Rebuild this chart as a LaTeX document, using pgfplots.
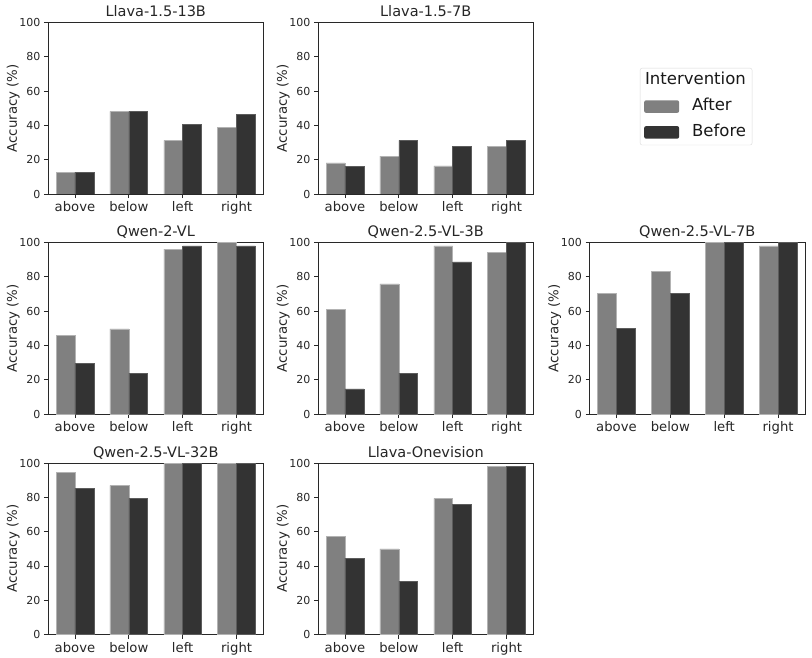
\documentclass[border=0pt]{standalone}
\usepackage{fontspec}
\setmainfont{DejaVu Sans}
\usepackage{pgfplots}
\pgfplotsset{compat=1.18}
\definecolor{afterc}{RGB}{128,128,128}
\definecolor{beforec}{RGB}{51,51,51}
\definecolor{axc}{RGB}{40,40,40}
\pgfplotsset{
  panel/.style={
    scale only axis, width=215.5pt, height=171.5pt,
    anchor=north west,
    ymin=0, ymax=100, xmin=-0.5, xmax=3.5,
    ytick={0,20,40,60,80,100},
    xtick={0,1,2,3}, xticklabels={above,below,left,right},
    ylabel={Accuracy (\%)},
    ybar, bar width=0.35,
    axis line style={axc, line width=0.8pt},
    tick style={axc, line width=0.8pt},
    tick align=outside, major tick length=4pt,
    xtick pos=bottom, ytick pos=left,
    /pgf/number format/assume math mode=true,
    yticklabel style={font=\fontsize{11}{13}\selectfont, text=black!85},
    xticklabel style={font=\fontsize{13.2}{15}\selectfont, text=black!85},
    every axis y label/.style={at={(axis description cs:-0.162,0.5)}, rotate=90, anchor=center, font=\fontsize{13.3}{15}\selectfont, text=black!85},
    title style={at={(axis description cs:0.5,1)}, anchor=base, yshift=0pt, font=\fontsize{14.5}{17}\selectfont, text=black!85},
  },
  aft/.style={fill=afterc, draw=white!40!afterc, line width=0.5pt, bar shift=-0.175},
  bef/.style={fill=beforec, draw=white!20!beforec, line width=0.5pt, bar shift=0.175},
}
\begin{document}
\begin{tikzpicture}
\path[use as bounding box] (0,0) rectangle (812pt,-658pt);
% Row 1
\begin{axis}[panel, at={(48pt,-22.5pt)}, title={Llava-1.5-13B}]
\addplot[aft] coordinates {(0,12.7) (1,48.2) (2,31.3) (3,38.7)};
\addplot[bef] coordinates {(0,12.7) (1,48.2) (2,40.6) (3,46.5)};
\end{axis}
\begin{axis}[panel, at={(318pt,-22.5pt)}, title={Llava-1.5-7B}]
\addplot[aft] coordinates {(0,18.2) (1,22.1) (2,16.4) (3,27.7)};
\addplot[bef] coordinates {(0,16.2) (1,31.3) (2,27.7) (3,31.3)};
\end{axis}
% legend holder
\begin{axis}[scale only axis, width=215.5pt, height=171.5pt, anchor=north west,
  at={(589.5pt,-22.5pt)}, hide axis, xmin=0, xmax=1, ymin=0, ymax=1,
  legend style={at={(0.234,0.735)}, anchor=north west,
    font=\fontsize{16.5}{19}\selectfont, text=black!90,
    draw=black!15, rounded corners=2pt, fill=white,
    inner xsep=4pt, inner ysep=3pt, row sep=6.5pt,
    nodes={inner sep=2pt, text height=11.8pt, text depth=3.5pt},
    /tikz/every odd column/.append style={column sep=11pt}},
  legend cell align=left,
  legend image code/.code={\fill[#1] (0pt,-6.3pt) rectangle (35pt,6.3pt);}]
\addlegendimage{empty legend}
\addlegendentry{\hspace*{-47pt}Intervention}
\addlegendimage{fill=afterc, draw=none}
\addlegendentry{After}
\addlegendimage{fill=beforec, draw=none}
\addlegendentry{Before}
\end{axis}
% Row 2
\begin{axis}[panel, at={(48pt,-242.5pt)}, title={Qwen-2-VL}]
\addplot[aft] coordinates {(0,46.0) (1,49.7) (2,96.1) (3,100)};
\addplot[bef] coordinates {(0,29.5) (1,23.9) (2,98.1) (3,98.1)};
\end{axis}
\begin{axis}[panel, at={(318pt,-242.5pt)}, title={Qwen-2.5-VL-3B}]
\addplot[aft] coordinates {(0,61.0) (1,75.9) (2,98.1) (3,94.2)};
\addplot[bef] coordinates {(0,14.6) (1,23.9) (2,88.7) (3,100)};
\end{axis}
\begin{axis}[panel, at={(589.5pt,-242.5pt)}, title={Qwen-2.5-VL-7B}]
\addplot[aft] coordinates {(0,70.5) (1,83.1) (2,100) (3,98.1)};
\addplot[bef] coordinates {(0,49.9) (1,70.5) (2,100) (3,100)};
\end{axis}
% Row 3
\begin{axis}[panel, at={(48pt,-463pt)}, title={Qwen-2.5-VL-32B}]
\addplot[aft] coordinates {(0,94.6) (1,87.0) (2,100) (3,100)};
\addplot[bef] coordinates {(0,85.2) (1,79.4) (2,100) (3,100)};
\end{axis}
\begin{axis}[panel, at={(318pt,-463pt)}, title={Llava-Onevision}]
\addplot[aft] coordinates {(0,57.1) (1,49.9) (2,79.4) (3,98.1)};
\addplot[bef] coordinates {(0,44.5) (1,31.1) (2,75.7) (3,98.1)};
\end{axis}
\end{tikzpicture}
\end{document}
